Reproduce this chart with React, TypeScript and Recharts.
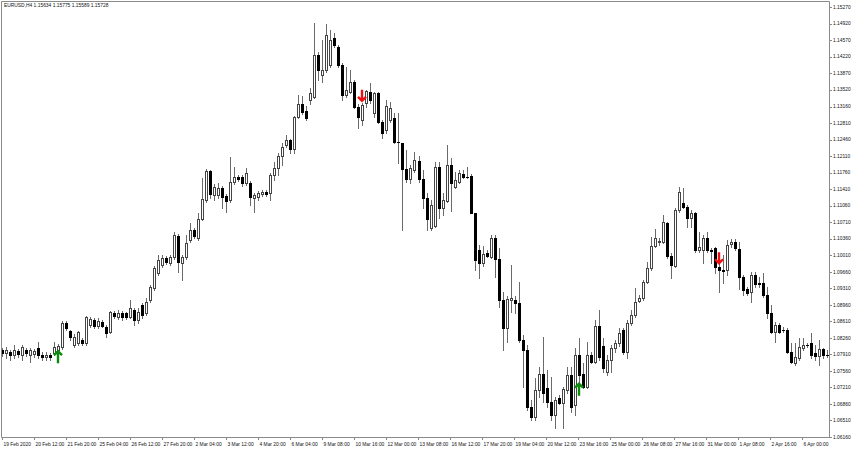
import React from 'react';
import { ComposedChart, Bar, Scatter, XAxis, YAxis } from 'recharts';

const title = 'EURUSD,H4  1.15634 1.15775 1.15589 1.15728';

const xLabels = [
  '19 Feb 2020', '20 Feb 12:00', '21 Feb 20:00', '25 Feb 04:00', '26 Feb 12:00', '27 Feb 20:00',
  '2 Mar 04:00', '3 Mar 12:00', '4 Mar 20:00', '6 Mar 04:00', '9 Mar 08:00', '10 Mar 16:00',
  '12 Mar 00:00', '13 Mar 08:00', '16 Mar 12:00', '17 Mar 20:00', '19 Mar 04:00', '20 Mar 12:00',
  '23 Mar 16:00', '25 Mar 00:00', '26 Mar 08:00', '27 Mar 16:00', '31 Mar 00:00', '1 Apr 08:00',
  '2 Apr 16:00', '6 Apr 00:00',
];

const yTicks = [
  1.1527, 1.1492, 1.1457, 1.1422, 1.1387, 1.1352, 1.1316, 1.1281, 1.1246, 1.1211, 1.1176, 1.1141,
  1.1106, 1.1071, 1.1036, 1.1001, 1.0966, 1.0931, 1.0896, 1.0861, 1.0826, 1.0791, 1.0756, 1.0721,
  1.0686, 1.0651, 1.0616,
];

const open = [
  1.0800, 1.0794, 1.0796, 1.0790, 1.0798, 1.0790, 1.0800, 1.0790, 1.0792, 1.0804,
  1.0790, 1.0785, 1.0790, 1.0794, 1.0800, 1.0807, 1.0858, 1.0840, 1.0811, 1.0815,
  1.0821, 1.0815, 1.0853, 1.0864, 1.0851, 1.0860, 1.0849, 1.0838, 1.0879, 1.0870,
  1.0879, 1.0879, 1.0870, 1.0885, 1.0864, 1.0896, 1.0879, 1.0906, 1.0932, 1.0963,
  1.0980, 1.0995, 1.0985, 1.0997, 1.1042, 1.0985, 1.0997, 1.1033, 1.1054, 1.1038,
  1.1078, 1.1118, 1.1180, 1.1129, 1.1129, 1.1144, 1.1127, 1.1118, 1.1156, 1.1167,
  1.1167, 1.1154, 1.1154, 1.1122, 1.1124, 1.1131, 1.1135, 1.1133, 1.1171, 1.1186,
  1.1211, 1.1235, 1.1245, 1.1226, 1.1294, 1.1321, 1.1306, 1.1330, 1.1336, 1.1425,
  1.1383, 1.1393, 1.1404, 1.1461, 1.1442, 1.1404, 1.1340, 1.1347, 1.1368, 1.1315,
  1.1288, 1.1323, 1.1347, 1.1302, 1.1344, 1.1283, 1.1266, 1.1288, 1.1292, 1.1241,
  1.1239, 1.1184, 1.1163, 1.1182, 1.1201, 1.1163, 1.1122, 1.1059, 1.1063, 1.1188,
  1.1101, 1.1116, 1.1192, 1.1146, 1.1156, 1.1173, 1.1167, 1.1169, 1.1091, 1.1012,
  1.0985, 1.1006, 1.0997, 1.1038, 1.0993, 1.0906, 1.0847, 1.0906, 1.0906, 1.0900,
  1.0821, 1.0800, 1.0680, 1.0658, 1.0715, 1.0750, 1.0720, 1.0690, 1.0663, 1.0699,
  1.0688, 1.0715, 1.0747, 1.0684, 1.0790, 1.0750, 1.0722, 1.0790, 1.0775, 1.0851,
  1.0809, 1.0754, 1.0779, 1.0804, 1.0815, 1.0843, 1.0796, 1.0858, 1.0875, 1.0904,
  1.0910, 1.0944, 1.0974, 1.1021, 1.1029, 1.1029, 1.1070, 1.0999, 1.0978, 1.1097,
  1.1112, 1.1103, 1.1080, 1.1091, 1.1012, 1.1012, 1.1038, 1.1012, 1.1016, 1.0976,
  1.0970, 1.0970, 1.1025, 1.1029, 1.1014, 1.0955, 1.0929, 1.0923, 1.0959, 1.0942,
  1.0942, 1.0917, 1.0879, 1.0838, 1.0853, 1.0843, 1.0843, 1.0796, 1.0773, 1.0783,
  1.0804, 1.0811, 1.0815, 1.0794, 1.0787, 1.0802, 1.0790,
];

const high = [
  1.0804, 1.0807, 1.0800, 1.0811, 1.0802, 1.0811, 1.0804, 1.0804, 1.0802, 1.0817,
  1.0796, 1.0796, 1.0794, 1.0817, 1.0813, 1.0862, 1.0862, 1.0843, 1.0834, 1.0840,
  1.0826, 1.0873, 1.0870, 1.0868, 1.0868, 1.0864, 1.0853, 1.0883, 1.0883, 1.0885,
  1.0883, 1.0881, 1.0906, 1.0889, 1.0889, 1.0900, 1.0910, 1.0938, 1.0978, 1.1002,
  1.1002, 1.0999, 1.1002, 1.1050, 1.1046, 1.1002, 1.1044, 1.1070, 1.1059, 1.1091,
  1.1165, 1.1184, 1.1182, 1.1152, 1.1154, 1.1148, 1.1131, 1.1209, 1.1188, 1.1171,
  1.1171, 1.1186, 1.1158, 1.1133, 1.1137, 1.1139, 1.1139, 1.1175, 1.1199, 1.1218,
  1.1239, 1.1255, 1.1247, 1.1296, 1.1340, 1.1338, 1.1317, 1.1355, 1.1493, 1.1432,
  1.1457, 1.1491, 1.1478, 1.1472, 1.1446, 1.1408, 1.1399, 1.1393, 1.1372, 1.1321,
  1.1323, 1.1351, 1.1366, 1.1347, 1.1347, 1.1288, 1.1330, 1.1326, 1.1302, 1.1302,
  1.1239, 1.1224, 1.1192, 1.1220, 1.1211, 1.1182, 1.1133, 1.1118, 1.1199, 1.1199,
  1.1133, 1.1235, 1.1207, 1.1178, 1.1182, 1.1182, 1.1188, 1.1173, 1.1091, 1.1023,
  1.1021, 1.1012, 1.1044, 1.1044, 1.1016, 1.0923, 1.0915, 1.0980, 1.0915, 1.0944,
  1.0832, 1.0811, 1.0694, 1.0741, 1.0764, 1.0828, 1.0758, 1.0743, 1.0701, 1.0705,
  1.0722, 1.0764, 1.0764, 1.0804, 1.0826, 1.0773, 1.0817, 1.0796, 1.0864, 1.0885,
  1.0826, 1.0790, 1.0811, 1.0821, 1.0847, 1.0847, 1.0864, 1.0885, 1.0932, 1.0917,
  1.0949, 1.0987, 1.1040, 1.1057, 1.1038, 1.1086, 1.1072, 1.1006, 1.1101, 1.1146,
  1.1144, 1.1107, 1.1097, 1.1093, 1.1050, 1.1044, 1.1050, 1.1016, 1.1019, 1.0991,
  1.1002, 1.1033, 1.1036, 1.1036, 1.1029, 1.0959, 1.0934, 1.0966, 1.0966, 1.0955,
  1.0963, 1.0934, 1.0896, 1.0860, 1.0858, 1.0849, 1.0847, 1.0815, 1.0815, 1.0826,
  1.0826, 1.0815, 1.0836, 1.0811, 1.0821, 1.0804, 1.0800,
];

const low = [
  1.0787, 1.0783, 1.0779, 1.0783, 1.0785, 1.0779, 1.0787, 1.0775, 1.0785, 1.0783,
  1.0779, 1.0779, 1.0779, 1.0790, 1.0796, 1.0802, 1.0843, 1.0821, 1.0807, 1.0811,
  1.0811, 1.0811, 1.0849, 1.0847, 1.0847, 1.0849, 1.0828, 1.0836, 1.0868, 1.0866,
  1.0864, 1.0866, 1.0868, 1.0853, 1.0858, 1.0868, 1.0875, 1.0902, 1.0927, 1.0959,
  1.0976, 1.0982, 1.0980, 1.0993, 1.0966, 1.0949, 1.0993, 1.1029, 1.1038, 1.1033,
  1.1076, 1.1114, 1.1122, 1.1118, 1.1122, 1.1101, 1.1093, 1.1114, 1.1152, 1.1158,
  1.1148, 1.1150, 1.1107, 1.1093, 1.1118, 1.1127, 1.1127, 1.1118, 1.1160, 1.1171,
  1.1192, 1.1230, 1.1218, 1.1218, 1.1292, 1.1300, 1.1288, 1.1321, 1.1334, 1.1372,
  1.1368, 1.1389, 1.1399, 1.1442, 1.1399, 1.1330, 1.1336, 1.1344, 1.1313, 1.1271,
  1.1277, 1.1315, 1.1323, 1.1294, 1.1281, 1.1249, 1.1260, 1.1283, 1.1239, 1.1197,
  1.1054, 1.1156, 1.1154, 1.1178, 1.1156, 1.1101, 1.1054, 1.1054, 1.1061, 1.1080,
  1.1086, 1.1114, 1.1095, 1.1144, 1.1154, 1.1165, 1.1165, 1.1091, 1.0970, 1.0953,
  1.0978, 1.0997, 1.0995, 1.0955, 1.0891, 1.0800, 1.0817, 1.0881, 1.0879, 1.0817,
  1.0722, 1.0673, 1.0652, 1.0652, 1.0701, 1.0690, 1.0680, 1.0652, 1.0635, 1.0686,
  1.0635, 1.0709, 1.0669, 1.0663, 1.0711, 1.0720, 1.0720, 1.0773, 1.0773, 1.0779,
  1.0754, 1.0747, 1.0754, 1.0796, 1.0809, 1.0792, 1.0783, 1.0853, 1.0870, 1.0902,
  1.0906, 1.0942, 1.0970, 1.1019, 1.1023, 1.1027, 1.0995, 1.0953, 1.0976, 1.1093,
  1.1101, 1.1061, 1.1061, 1.1008, 1.1008, 1.0985, 1.1008, 1.0985, 1.0963, 1.0923,
  1.0942, 1.0959, 1.1019, 1.1012, 1.0929, 1.0917, 1.0917, 1.0902, 1.0934, 1.0934,
  1.0912, 1.0868, 1.0836, 1.0817, 1.0836, 1.0838, 1.0794, 1.0773, 1.0768, 1.0779,
  1.0800, 1.0807, 1.0783, 1.0779, 1.0768, 1.0783, 1.0785,
];

const close = [
  1.0794, 1.0800, 1.0790, 1.0800, 1.0792, 1.0807, 1.0794, 1.0800, 1.0798, 1.0790,
  1.0785, 1.0790, 1.0785, 1.0807, 1.0809, 1.0858, 1.0847, 1.0828, 1.0828, 1.0838,
  1.0815, 1.0870, 1.0866, 1.0851, 1.0862, 1.0851, 1.0836, 1.0881, 1.0873, 1.0879,
  1.0870, 1.0870, 1.0889, 1.0864, 1.0881, 1.0875, 1.0902, 1.0934, 1.0974, 1.0991,
  1.0995, 1.0987, 1.0997, 1.1044, 1.0987, 1.0997, 1.1027, 1.1054, 1.1042, 1.1078,
  1.1120, 1.1180, 1.1131, 1.1146, 1.1144, 1.1124, 1.1116, 1.1156, 1.1167, 1.1163,
  1.1154, 1.1175, 1.1124, 1.1129, 1.1133, 1.1135, 1.1131, 1.1171, 1.1186, 1.1211,
  1.1230, 1.1245, 1.1226, 1.1294, 1.1321, 1.1304, 1.1292, 1.1344, 1.1425, 1.1393,
  1.1393, 1.1468, 1.1457, 1.1446, 1.1404, 1.1340, 1.1351, 1.1368, 1.1315, 1.1294,
  1.1319, 1.1349, 1.1330, 1.1344, 1.1283, 1.1260, 1.1317, 1.1313, 1.1241, 1.1240,
  1.1184, 1.1163, 1.1186, 1.1203, 1.1163, 1.1122, 1.1078, 1.1107, 1.1188, 1.1101,
  1.1118, 1.1192, 1.1154, 1.1160, 1.1175, 1.1167, 1.1166, 1.1091, 1.0991, 1.0985,
  1.1004, 1.0999, 1.1038, 1.0993, 1.0906, 1.0847, 1.0908, 1.0910, 1.0900, 1.0821,
  1.0800, 1.0680, 1.0658, 1.0715, 1.0750, 1.0709, 1.0690, 1.0663, 1.0694, 1.0688,
  1.0718, 1.0747, 1.0680, 1.0790, 1.0747, 1.0722, 1.0790, 1.0775, 1.0851, 1.0785,
  1.0762, 1.0779, 1.0804, 1.0815, 1.0836, 1.0796, 1.0858, 1.0875, 1.0902, 1.0910,
  1.0944, 1.0974, 1.1021, 1.1038, 1.1031, 1.1072, 1.0999, 1.0980, 1.1097, 1.1135,
  1.1103, 1.1080, 1.1091, 1.1012, 1.1019, 1.1038, 1.1012, 1.1011, 1.0976, 1.0970,
  1.0968, 1.1023, 1.1029, 1.1016, 1.0955, 1.0927, 1.0921, 1.0959, 1.0940, 1.0941,
  1.0917, 1.0879, 1.0838, 1.0853, 1.0838, 1.0842, 1.0796, 1.0775, 1.0785, 1.0807,
  1.0811, 1.0810, 1.0790, 1.0787, 1.0802, 1.0790, 1.0789,
];

// signal arrows: bar index + tip price
const upArrowBars = [14, 144];
const upArrowPrices = [1.0800, 1.0731];
const downArrowBars = [90, 179];
const downArrowPrices = [1.1326, 1.0982];

const data = open.map((o, i) => ({
  i,
  open: o,
  high: high[i],
  low: low[i],
  close: close[i],
  range: [low[i], high[i]],
  up: upArrowBars.includes(i) ? upArrowPrices[upArrowBars.indexOf(i)] : null,
  down: downArrowBars.includes(i) ? downArrowPrices[downArrowBars.indexOf(i)] : null,
}));

const FRAME = '#8a8a8a';
const WICK = '#6a6a6a';
const OUTLINE = '#444';
const FONT = 'Liberation Sans, Arial, sans-serif';

const Candle = (props: any) => {
  const { x, y, width, height, payload } = props;
  if (x == null || y == null || !payload) return null;
  const { open: o, high: h, low: l, close: c } = payload;
  const top = Math.min(y, y + height);
  const bottom = Math.max(y, y + height);
  const k = h > l ? (bottom - top) / (h - l) : 0;
  const py = (p: number) => top + (h - p) * k;
  const cx = Math.floor(x + width / 2) + 0.5;
  const bTop = Math.round(py(Math.max(o, c)));
  const bBot = Math.round(py(Math.min(o, c)));
  const bull = c >= o;
  return (
    <g>
      <line x1={cx} x2={cx} y1={Math.round(top)} y2={Math.round(bottom) + 1} stroke={WICK} strokeWidth={1} />
      {bBot - bTop < 1 ? (
        <line x1={cx - 1.5} x2={cx + 1.5} y1={bTop + 0.5} y2={bTop + 0.5} stroke="#000" strokeWidth={1} />
      ) : (
        <rect
          x={cx - 1}
          y={bTop + 0.5}
          width={2}
          height={bBot - bTop}
          fill={bull ? '#fff' : '#000'}
          stroke={bull ? OUTLINE : '#000'}
          strokeWidth={1}
        />
      )}
    </g>
  );
};

const UpArrow = (props: any) => {
  const { cx, cy, payload } = props;
  if (!payload || payload.up == null || !Number.isFinite(cy)) return null;
  const x = Math.round(cx);
  return (
    <path
      d={`M${x},${cy + 13} L${x},${cy + 2} M${x - 4},${cy + 5} L${x},${cy + 1} L${x + 4},${cy + 5}`}
      stroke="#0b8a0b"
      strokeWidth={2.4}
      fill="none"
    />
  );
};

const DownArrow = (props: any) => {
  const { cx, cy, payload } = props;
  if (!payload || payload.down == null || !Number.isFinite(cy)) return null;
  const x = Math.round(cx);
  return (
    <path
      d={`M${x},${cy - 12} L${x},${cy - 2} M${x - 4},${cy - 5} L${x},${cy - 1} L${x + 4},${cy - 5}`}
      stroke="#f01010"
      strokeWidth={2.4}
      fill="none"
    />
  );
};

const XTick = (props: any) => {
  const { x, y, payload } = props;
  const label = xLabels[Math.round(payload.value / 8)];
  const px = Math.floor(x) + 0.5;
  return (
    <g>
      <line x1={px} x2={px} y1={y} y2={y + 3} stroke={FRAME} strokeWidth={1} />
      <text x={px + 1} y={y + 7} dy="0.35em" fontSize={4.9} fontFamily={FONT} fill="#111">
        {label}
      </text>
    </g>
  );
};

const YTick = (props: any) => {
  const { x, y, payload } = props;
  const py = Math.round(y) + 0.5;
  return (
    <g>
      <line x1={x} x2={x + 3} y1={py} y2={py} stroke={FRAME} strokeWidth={1} />
      <text x={x + 4} y={y} dy="0.35em" fontSize={4.9} fontFamily={FONT} fill="#111">
        {Number(payload.value).toFixed(5)}
      </text>
    </g>
  );
};

export default function App() {
  return (
    <div style={{ position: 'absolute', left: 0, top: 0, width: 852, height: 450, background: '#fff' }}>
      <ComposedChart width={852} height={450} data={data} margin={{ top: 1, right: 0, bottom: 0, left: 0 }}>
        <XAxis
          dataKey="i"
          type="category"
          interval={7}
          height={13}
          tickSize={0}
          tickMargin={0}
          tickLine={false}
          axisLine={false}
          tick={<XTick />}
        />
        <YAxis
          orientation="right"
          type="number"
          domain={[1.0616, 1.15397]}
          allowDataOverflow
          ticks={yTicks}
          interval={0}
          width={23}
          tickSize={0}
          tickMargin={0}
          tickLine={false}
          axisLine={false}
          tick={<YTick />}
        />
        <Bar dataKey="range" barSize={3} shape={<Candle />} isAnimationActive={false} />
        <Scatter dataKey="up" shape={<UpArrow />} isAnimationActive={false} />
        <Scatter dataKey="down" shape={<DownArrow />} isAnimationActive={false} />
      </ComposedChart>
      <svg
        width={852}
        height={450}
        style={{ position: 'absolute', left: 0, top: 0, pointerEvents: 'none' }}
      >
        <path d="M1.5,1.5 H829.5 V437.5 H1.5 Z" fill="none" stroke={FRAME} strokeWidth={1} />
        <text x={4} y={5} dy="0.35em" fontSize={4.9} fontFamily={FONT} fill="#111">
          {title}
        </text>
      </svg>
    </div>
  );
}
